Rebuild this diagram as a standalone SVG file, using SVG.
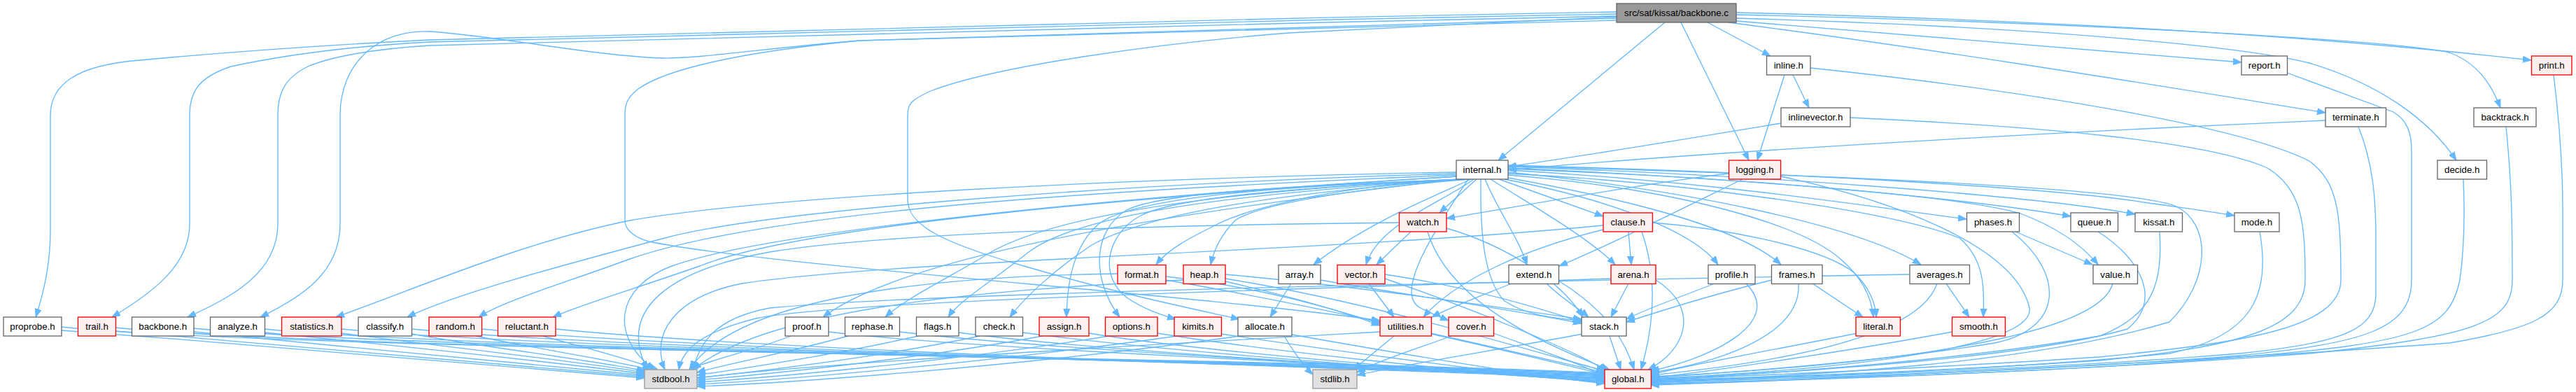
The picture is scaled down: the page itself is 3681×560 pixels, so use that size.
<svg xmlns="http://www.w3.org/2000/svg" width="3681" height="560" viewBox="0 0 3681 560">
<style>
rect{stroke-width:1.33}
.n rect{fill:#ffffff;stroke:#666666}
.r rect{fill:#fff0f0;stroke:#ff0000}
.g rect{fill:#e0e0e0;stroke:#999999}
.root rect{fill:#999999;stroke:#666666}
text{font-family:"Liberation Sans",Arial,Helvetica,sans-serif;font-size:13.33px;text-anchor:middle;fill:#000000}
#edges path{fill:none;stroke:#63b8ff;stroke-width:1.33;marker-end:url(#a)}
</style>
<defs>
<marker id="a" markerWidth="13" markerHeight="10" refX="12" refY="5" orient="auto" markerUnits="userSpaceOnUse"><path d="M0,0.5L12,5L0,9.5z" fill="#63b8ff" stroke="#63b8ff" stroke-width="1"/></marker>
</defs>
<rect width="3681" height="560" fill="#ffffff"/>
<g id="edges">
<path d="M2310,17 C1700,28 1000,45 614,57 C450,65 330,74 200,86 C110,93 72,120 72,165 L72,330 C72,380 62,420 51,453"/>
<path d="M2310,20 C1700,31 1000,49 614,60 C500,66 400,80 330,95 C285,110 271,130 271,165 L271,320 C271,380 215,420 160,453"/>
<path d="M2310,23 C1700,35 1000,55 614,65 C530,70 470,82 440,95 C405,112 397,135 397,165 L397,320 C397,390 330,425 268,453"/>
<path d="M2310,26 C1900,35 1500,48 1228,58 C1100,68 1000,84 947,83 C850,80 700,50 614,45 C540,42 486,90 486,165 L486,320 C486,390 430,425 372,453"/>
<path d="M2310,29 C1900,38 1500,50 1228,58 C1050,75 950,100 912,127 C895,140 893,150 893,165 L893,315 C893,330 910,340 927,345 C1100,380 1700,420 1972,458"/>
<path d="M2310,24 C2100,33 1900,43 1842,47 C1650,62 1420,95 1330,130 C1300,143 1297,150 1297,165 L1297,285 C1297,320 1340,345 1463,380 C1600,420 1700,440 1771,456"/>
<path d="M2379,32 L2141,229"/>
<path d="M2402,32 L2499,229"/>
<path d="M2440,32 L2530,80"/>
<path d="M2481,30 C2750,50 3000,72 3203,89"/>
<path d="M2470,32 C2800,75 3100,125 3323,161"/>
<path d="M2481,18 C2900,28 3300,50 3617,86"/>
<path d="M2481,21 C2900,30 3400,55 3500,75 C3540,90 3560,120 3573,154"/>
<path d="M2481,26 C2900,38 3200,65 3300,90 C3400,120 3470,170 3510,229"/>
<path d="M2081,246 C1600,255 1100,280 900,315 C750,345 600,410 480,453"/>
<path d="M2081,248 C1600,262 1100,300 950,340 C800,380 650,420 582,453"/>
<path d="M2081,250 C1600,270 1100,300 900,370 C790,410 720,430 684,453"/>
<path d="M2082,252 C1650,280 1150,320 1000,380 C900,415 830,435 790,453"/>
<path d="M2084,256 C1700,300 1300,360 1176,453"/>
<path d="M2086,256 C1800,270 1500,300 1400,370 C1330,410 1290,430 1265,453"/>
<path d="M2088,256 C1800,275 1550,300 1470,360 C1420,400 1370,430 1355,453"/>
<path d="M2090,256 C1850,275 1650,300 1560,350 C1500,390 1460,430 1443,453"/>
<path d="M2092,256 C1850,265 1620,280 1570,320 C1535,350 1525,400 1524,453"/>
<path d="M2094,256 C1850,265 1660,275 1610,300 C1560,330 1560,400 1600,453"/>
<path d="M2096,256 C1850,268 1680,282 1630,308 C1580,335 1570,395 1610,425 C1635,442 1660,450 1680,456"/>
<path d="M2098,256 C1900,265 1780,300 1740,320 C1700,340 1670,355 1652,378"/>
<path d="M2100,256 C1950,268 1800,290 1765,315 C1745,335 1735,355 1730,378"/>
<path d="M2102,256 C2050,280 1950,320 1877,378"/>
<path d="M2106,256 C2060,290 1970,320 1952,378"/>
<path d="M2110,256 L2057,304"/>
<path d="M2116,256 C2115,330 2120,400 2150,430 C2180,450 2220,455 2260,458"/>
<path d="M2122,256 C2140,300 2170,340 2182,378"/>
<path d="M2130,256 C2200,300 2270,340 2308,378"/>
<path d="M2142,256 L2291,309"/>
<path d="M2098,256 C2050,330 1990,420 2030,440 C2045,448 2058,453 2070,458"/>
<path d="M2155,250 C2400,270 2573,320 2630,370 C2665,400 2675,430 2677,453"/>
<path d="M2155,248 C2400,260 2700,300 2800,340 C2835,370 2836,410 2834,453"/>
<path d="M2155,246 C2400,270 2650,320 2745,378"/>
<path d="M2155,254 C2300,280 2480,320 2545,378"/>
<path d="M2150,256 C2300,285 2420,330 2455,378"/>
<path d="M2155,243 C2450,260 2650,292 2810,313"/>
<path d="M2155,240 C2500,255 2800,282 2959,309"/>
<path d="M2155,238 C2500,250 2900,278 3051,306"/>
<path d="M2155,236 C2600,248 2950,270 3070,290 C3120,297 3160,302 3193,308"/>
<path d="M2155,241 C2500,255 2800,280 2887,305 C2940,325 2975,350 2998,378"/>
<path d="M2081,252 C1600,280 1100,330 960,380 C880,410 870,480 935,528"/>
<path d="M2155,237 C2600,250 3050,268 3110,295 C3160,320 3160,400 3100,460 C2900,520 2600,536 2359,546"/>
<path d="M2327,331 L2331,378"/>
<path d="M2291,328 C2180,355 2080,400 2034,453"/>
<path d="M2346,331 C2370,400 2362,470 2345,528"/>
<path d="M2361,318 C2450,325 2600,350 2650,390 C2672,412 2680,432 2681,453"/>
<path d="M2291,322 C1900,360 1300,370 1060,405 C960,425 930,480 950,528"/>
<path d="M2016,331 L1967,378"/>
<path d="M2067,326 C2150,350 2230,400 2262,453"/>
<path d="M2040,331 C2070,430 2200,490 2300,528"/>
<path d="M1999,318 C1600,322 1250,335 1100,360 C960,385 880,440 925,528"/>
<path d="M2327,405 L2302,453"/>
<path d="M2366,400 C2430,440 2410,500 2355,528"/>
<path d="M2302,398 C1800,415 1200,430 1080,455 C1000,475 975,500 970,528"/>
<path d="M2210,405 C2230,425 2255,440 2270,453"/>
<path d="M2227,401 C2290,440 2320,480 2335,528"/>
<path d="M2160,405 C2110,425 2070,440 2046,453"/>
<path d="M1956,405 L1992,453"/>
<path d="M1979,392 C2100,410 2200,440 2260,460"/>
<path d="M1979,398 C2100,440 2250,500 2296,530"/>
<path d="M1597,391 C1300,395 1050,430 985,528"/>
<path d="M1666,400 C1900,440 2150,500 2293,532"/>
<path d="M1666,395 C1800,410 1900,440 1972,462"/>
<path d="M1691,400 C1400,415 1100,440 990,528"/>
<path d="M1751,398 C1950,430 2150,490 2293,530"/>
<path d="M1751,392 C1950,410 2150,440 2260,456"/>
<path d="M1751,402 C1850,425 1920,445 1972,465"/>
<path d="M1845,405 L1815,453"/>
<path d="M1887,400 C2000,420 2150,440 2260,462"/>
<path d="M2450,405 C2400,425 2350,442 2324,456"/>
<path d="M2495,405 C2550,460 2450,510 2359,530"/>
<path d="M2532,400 C2450,420 2370,445 2324,460"/>
<path d="M2590,405 L2662,453"/>
<path d="M2570,405 C2575,480 2450,520 2359,532"/>
<path d="M2781,405 L2814,453"/>
<path d="M2768,405 C2740,490 2500,522 2359,536"/>
<path d="M2729,392 C2000,405 1300,420 1100,440 C1020,455 1000,490 990,528"/>
<path d="M3019,405 C3000,480 2700,522 2359,538"/>
<path d="M2880,331 L2990,378"/>
<path d="M2875,331 C2950,390 2950,470 2850,490 C2700,515 2500,530 2359,540"/>
<path d="M2998,331 C3060,370 3090,430 3040,470 C2900,510 2600,530 2359,542"/>
<path d="M3086,331 C3090,400 3080,450 3000,480 C2800,515 2550,532 2359,544"/>
<path d="M3229,331 C3245,420 3220,480 3100,505 C2850,530 2550,538 2359,545"/>
<path d="M2470,248 C2350,262 2200,290 2067,312"/>
<path d="M2490,256 C2400,300 2300,350 2228,380"/>
<path d="M2545,252 C2700,285 2880,350 2900,440 C2910,500 2600,530 2359,541"/>
<path d="M2550,107 L2511,229"/>
<path d="M2562,107 L2585,154"/>
<path d="M2587,97 C2900,130 3200,180 3300,230 C3340,260 3345,300 3345,400 C3345,470 3200,490 3000,510 C2700,530 2450,538 2359,543"/>
<path d="M2545,176 C2400,200 2250,225 2155,238"/>
<path d="M2644,168 C2900,180 3150,200 3240,240 C3290,270 3294,320 3294,400 C3294,470 3200,495 3000,515 C2700,535 2450,540 2359,544"/>
<path d="M3323,172 C2900,190 2400,220 2155,243"/>
<path d="M3370,181 C3390,230 3395,280 3395,340 L3395,420 C3395,470 3350,490 3200,505 C2900,530 2500,540 2359,546"/>
<path d="M3268,104 L3420,160 C3440,172 3446,190 3446,215 L3446,400 C3446,470 3380,490 3200,508 C2900,532 2500,542 2359,547"/>
<path d="M3520,256 C3522,300 3522,350 3515,400 C3500,470 3460,490 3200,510 C2900,535 2500,544 2359,548"/>
<path d="M3581,181 C3588,250 3590,300 3590,400 C3590,460 3540,480 3300,505 C2900,535 2500,545 2359,549"/>
<path d="M3649,107 C3658,180 3662,250 3662,300 L3662,400 C3662,450 3620,470 3500,490 C3100,520 2500,546 2359,550"/>
<path d="M88,472 C400,495 750,525 921,540"/>
<path d="M88,467 C400,500 1900,512 2293,533"/>
<path d="M165,473 C450,497 750,523 921,538"/>
<path d="M165,468 C470,500 1900,514 2293,534"/>
<path d="M277,474 C500,497 780,521 921,536"/>
<path d="M277,469 C580,500 1900,516 2293,535"/>
<path d="M378,475 C600,497 800,519 921,534"/>
<path d="M378,470 C680,500 1900,518 2293,536"/>
<path d="M488,476 C650,497 830,517 921,532"/>
<path d="M488,470 C790,500 1900,520 2293,537"/>
<path d="M588,477 C700,497 850,515 922,530"/>
<path d="M588,470 C890,500 1900,522 2293,538"/>
<path d="M680,480 C760,497 860,512 930,528"/>
<path d="M688,470 C990,500 1900,524 2293,539"/>
<path d="M775,480 C830,495 890,510 940,528"/>
<path d="M794,470 C1090,500 1900,526 2293,540"/>
<path d="M1130,480 C1080,500 1010,515 985,528"/>
<path d="M1184,474 C1400,500 2000,522 2293,541"/>
<path d="M1212,480 C1120,505 1030,522 996,532"/>
<path d="M1285,474 C1500,500 2000,524 2293,542"/>
<path d="M1312,480 C1180,510 1050,528 996,536"/>
<path d="M1370,475 C1550,500 2000,526 2293,543"/>
<path d="M1400,480 C1250,512 1070,532 996,540"/>
<path d="M1461,475 C1650,500 2000,528 2293,544"/>
<path d="M1490,480 C1300,515 1080,536 996,543"/>
<path d="M1556,476 C1700,500 2050,530 2293,545"/>
<path d="M1585,480 C1350,518 1090,540 996,546"/>
<path d="M1654,476 C1800,500 2100,532 2293,546"/>
<path d="M1682,480 C1400,520 1100,544 996,549"/>
<path d="M1745,477 C1900,500 2150,534 2293,547"/>
<path d="M1772,480 C1450,525 1110,548 996,552"/>
<path d="M1846,478 C2000,505 2180,536 2293,548"/>
<path d="M1835,480 C1850,505 1862,522 1876,535"/>
<path d="M1972,474 C1600,495 1150,520 996,540"/>
<path d="M1992,480 L1934,528"/>
<path d="M2045,477 C2150,500 2230,520 2293,535"/>
<path d="M2074,480 C2020,500 1970,515 1939,532"/>
<path d="M2134,476 C2200,500 2260,520 2293,538"/>
<path d="M2262,477 C2150,498 2000,522 1939,536"/>
<path d="M2300,480 L2316,528"/>
<path d="M2654,476 C2550,497 2420,520 2359,535"/>
<path d="M2790,474 C2650,500 2450,530 2359,540"/>
</g>
<g id="node-root" class="root"><rect x="2310" y="5" width="171" height="27"/><text x="2395.5" y="23">src/sat/kissat/backbone.c</text></g>
<g id="node-inline" class="n"><rect x="2524.5" y="80" width="62.5" height="27"/><text x="2555.75" y="98">inline.h</text></g>
<g id="node-report" class="n"><rect x="3203" y="80" width="65.5" height="27"/><text x="3235.75" y="98">report.h</text></g>
<g id="node-print" class="r"><rect x="3617.5" y="80" width="57.5" height="27"/><text x="3646.25" y="98">print.h</text></g>
<g id="node-inlinevector" class="n"><rect x="2545" y="154" width="99" height="27"/><text x="2594.5" y="172">inlinevector.h</text></g>
<g id="node-terminate" class="n"><rect x="3323" y="154" width="86.5" height="27"/><text x="3366.25" y="172">terminate.h</text></g>
<g id="node-backtrack" class="n"><rect x="3535" y="154" width="89" height="27"/><text x="3579.5" y="172">backtrack.h</text></g>
<g id="node-internal" class="n"><rect x="2081" y="229" width="74" height="27"/><text x="2118" y="247">internal.h</text></g>
<g id="node-logging" class="r"><rect x="2470.5" y="229" width="74" height="27"/><text x="2507.5" y="247">logging.h</text></g>
<g id="node-decide" class="n"><rect x="3483" y="229" width="70.5" height="27"/><text x="3518.25" y="247">decide.h</text></g>
<g id="node-watch" class="r"><rect x="1999.5" y="304" width="67.5" height="27"/><text x="2033.25" y="322">watch.h</text></g>
<g id="node-clause" class="r"><rect x="2291" y="304" width="70.5" height="27"/><text x="2326.25" y="322">clause.h</text></g>
<g id="node-phases" class="n"><rect x="2810.5" y="304" width="75" height="27"/><text x="2848" y="322">phases.h</text></g>
<g id="node-queue" class="n"><rect x="2959" y="304" width="67.5" height="27"/><text x="2992.75" y="322">queue.h</text></g>
<g id="node-kissat" class="n"><rect x="3051" y="304" width="67.5" height="27"/><text x="3084.75" y="322">kissat.h</text></g>
<g id="node-mode" class="n"><rect x="3193" y="304" width="64" height="27"/><text x="3225" y="322">mode.h</text></g>
<g id="node-format" class="r"><rect x="1597" y="378.5" width="69" height="27"/><text x="1631.5" y="396.5">format.h</text></g>
<g id="node-heap" class="r"><rect x="1691" y="378.5" width="60" height="27"/><text x="1721" y="396.5">heap.h</text></g>
<g id="node-array" class="n"><rect x="1827" y="378.5" width="60" height="27"/><text x="1857" y="396.5">array.h</text></g>
<g id="node-vector" class="r"><rect x="1911" y="378.5" width="68" height="27"/><text x="1945" y="396.5">vector.h</text></g>
<g id="node-extend" class="n"><rect x="2156" y="378.5" width="71.5" height="27"/><text x="2191.75" y="396.5">extend.h</text></g>
<g id="node-arena" class="r"><rect x="2302" y="378.5" width="64" height="27"/><text x="2334" y="396.5">arena.h</text></g>
<g id="node-profile" class="n"><rect x="2441" y="378.5" width="67" height="27"/><text x="2474.5" y="396.5">profile.h</text></g>
<g id="node-frames" class="n"><rect x="2531.5" y="378.5" width="72.5" height="27"/><text x="2567.75" y="396.5">frames.h</text></g>
<g id="node-averages" class="n"><rect x="2729" y="378.5" width="85.5" height="27"/><text x="2771.75" y="396.5">averages.h</text></g>
<g id="node-value" class="n"><rect x="2991" y="378.5" width="63.5" height="27"/><text x="3022.75" y="396.5">value.h</text></g>
<g id="node-proprobe" class="n"><rect x="5" y="453" width="83" height="27"/><text x="46.5" y="471">proprobe.h</text></g>
<g id="node-trail" class="r"><rect x="111.5" y="453" width="54" height="27"/><text x="138.5" y="471">trail.h</text></g>
<g id="node-backbone" class="n"><rect x="188.5" y="453" width="88.5" height="27"/><text x="232.75" y="471">backbone.h</text></g>
<g id="node-analyze" class="n"><rect x="300.5" y="453" width="78" height="27"/><text x="339.5" y="471">analyze.h</text></g>
<g id="node-statistics" class="r"><rect x="402.5" y="453" width="85.5" height="27"/><text x="445.25" y="471">statistics.h</text></g>
<g id="node-classify" class="n"><rect x="512" y="453" width="76.5" height="27"/><text x="550.25" y="471">classify.h</text></g>
<g id="node-random" class="r"><rect x="613" y="453" width="75.5" height="27"/><text x="650.75" y="471">random.h</text></g>
<g id="node-reluctant" class="r"><rect x="711.5" y="453" width="82.5" height="27"/><text x="752.75" y="471">reluctant.h</text></g>
<g id="node-proof" class="n"><rect x="1122" y="453" width="62" height="27"/><text x="1153" y="471">proof.h</text></g>
<g id="node-rephase" class="n"><rect x="1207.5" y="453" width="78" height="27"/><text x="1246.5" y="471">rephase.h</text></g>
<g id="node-flags" class="n"><rect x="1309.5" y="453" width="60.5" height="27"/><text x="1339.75" y="471">flags.h</text></g>
<g id="node-check" class="n"><rect x="1394" y="453" width="67.5" height="27"/><text x="1427.75" y="471">check.h</text></g>
<g id="node-assign" class="r"><rect x="1485" y="453" width="71" height="27"/><text x="1520.5" y="471">assign.h</text></g>
<g id="node-options" class="r"><rect x="1579.5" y="453" width="74.5" height="27"/><text x="1616.75" y="471">options.h</text></g>
<g id="node-kimits" class="r"><rect x="1678" y="453" width="67.5" height="27"/><text x="1711.75" y="471">kimits.h</text></g>
<g id="node-allocate" class="n"><rect x="1769" y="453" width="77" height="27"/><text x="1807.5" y="471">allocate.h</text></g>
<g id="node-utilities" class="r"><rect x="1972" y="453" width="73.5" height="27"/><text x="2008.75" y="471">utilities.h</text></g>
<g id="node-cover" class="r"><rect x="2070" y="453" width="64.5" height="27"/><text x="2102.25" y="471">cover.h</text></g>
<g id="node-stack" class="n"><rect x="2260" y="453" width="64" height="27"/><text x="2292" y="471">stack.h</text></g>
<g id="node-literal" class="r"><rect x="2652" y="453" width="63.5" height="27"/><text x="2683.75" y="471">literal.h</text></g>
<g id="node-smooth" class="r"><rect x="2789.5" y="453" width="76" height="27"/><text x="2827.5" y="471">smooth.h</text></g>
<g id="node-stdbool" class="g"><rect x="921" y="528" width="75" height="27"/><text x="958.5" y="546">stdbool.h</text></g>
<g id="node-stdlib" class="g"><rect x="1876" y="528" width="63" height="27"/><text x="1907.5" y="546">stdlib.h</text></g>
<g id="node-global" class="r"><rect x="2293" y="528" width="66.5" height="27"/><text x="2326.25" y="546">global.h</text></g>
</svg>
